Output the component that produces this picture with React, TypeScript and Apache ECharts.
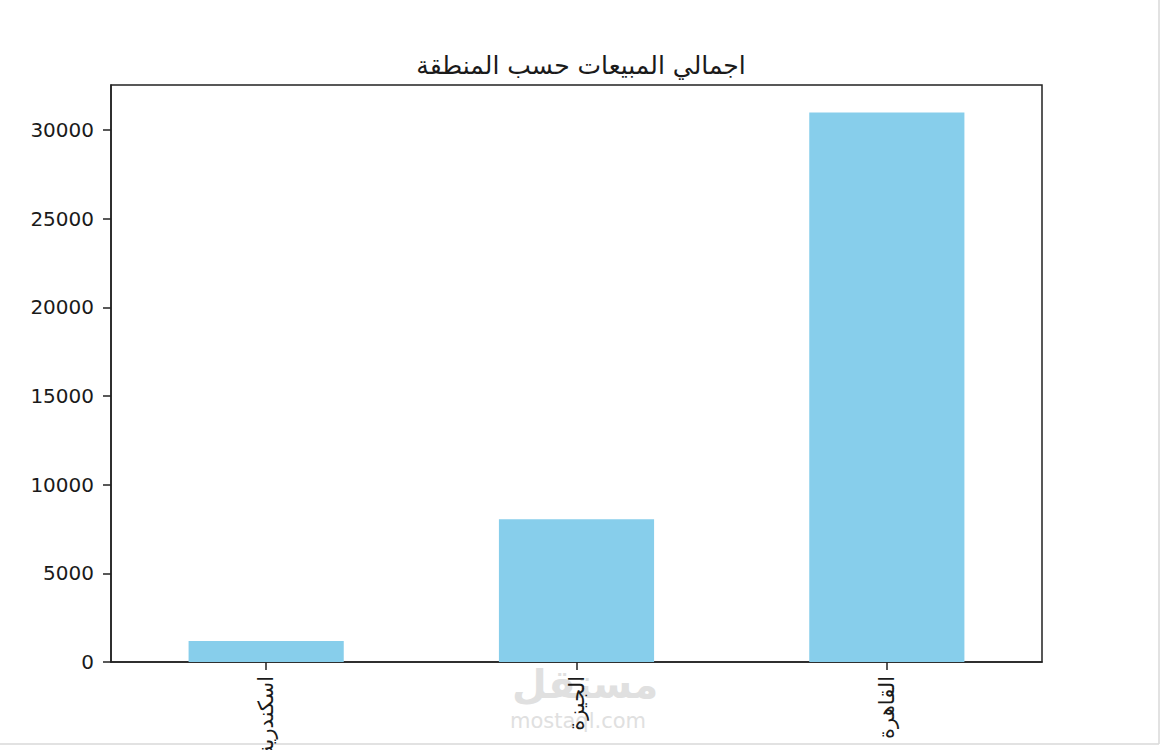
import React, { useEffect, useRef } from "react";
import * as echarts from "echarts";

const title = "اجمالي المبيعات حسب المنطقة";
const regions = ["اسكندرية", "الجيزة", "القاهرة"];
const sales = [1180, 8050, 31000];
const yTicks = [0, 5000, 10000, 15000, 20000, 25000, 30000];
const yMax = 32550;

const FONT = "'DejaVu Sans', sans-serif";
const INK = "#1a1a1a";

export default function App() {
  const ref = useRef<HTMLDivElement>(null);
  useEffect(() => {
    if (!ref.current) return;
    const chart = echarts.init(ref.current, null, { renderer: "svg" });
    chart.setOption({
      animation: false,
      backgroundColor: "#ffffff",
      title: {
        text: title,
        left: 576,
        textAlign: "center",
        top: 48,
        textStyle: { fontFamily: FONT, fontSize: 25, fontWeight: "normal", color: INK },
      },
      grid: {
        left: 111,
        right: 120,
        top: 85,
        bottom: 88,
        outerBoundsMode: "none",
        containLabel: false,
        show: true,
        borderColor: "#222",
        borderWidth: 1.5,
        backgroundColor: "transparent",
      },
      xAxis: {
        type: "category",
        data: regions,
        axisLine: { show: true, lineStyle: { color: "#222", width: 1.5 } },
        axisTick: { show: true, alignWithLabel: true, length: 8, lineStyle: { color: "#222", width: 1.5 } },
        axisLabel: {
          rotate: 90,
          margin: 14,
          fontFamily: FONT,
          fontSize: 21,
          color: INK,
        },
        splitLine: { show: false },
      },
      yAxis: {
        type: "value",
        min: 0,
        max: yMax,
        interval: 5000,
        axisLine: { show: true, lineStyle: { color: "#222", width: 1.5 } },
        axisTick: { show: true, length: 8, customValues: yTicks, lineStyle: { color: "#222", width: 1.5 } },
        axisLabel: {
          margin: 17,
          customValues: yTicks,
          formatter: (v: number) => String(v),
          fontFamily: FONT,
          fontSize: 20,
          color: INK,
        },
        splitLine: { show: false },
      },
      series: [
        {
          type: "bar",
          data: sales,
          barWidth: "50%",
          itemStyle: { color: "#87CEEB" },
        },
      ],
      graphic: [
        {
          type: "text",
          z: -10,
          left: 512,
          top: 664,
          style: {
            text: "مستقل",
            fontFamily: FONT,
            fontSize: 40,
            fontWeight: "bold",
            fill: "#e0e0e0",
          },
        },
        {
          type: "text",
          z: -10,
          left: 510,
          top: 710,
          style: {
            text: "mostaql.com",
            fontFamily: FONT,
            fontSize: 21,
            fill: "#e0e0e0",
          },
        },
        {
          type: "line",
          shape: { x1: 1159, y1: 0, x2: 1159, y2: 744 },
          style: { stroke: "#d8d8d8", lineWidth: 1.5 },
        },
        {
          type: "line",
          shape: { x1: 0, y1: 744, x2: 1159, y2: 744 },
          style: { stroke: "#d8d8d8", lineWidth: 1.5 },
        },
      ],
    });
    return () => chart.dispose();
  }, []);
  return (
    <div
      ref={ref}
      style={{ position: "fixed", left: 0, top: 0, width: 1162, height: 750 }}
    />
  );
}
